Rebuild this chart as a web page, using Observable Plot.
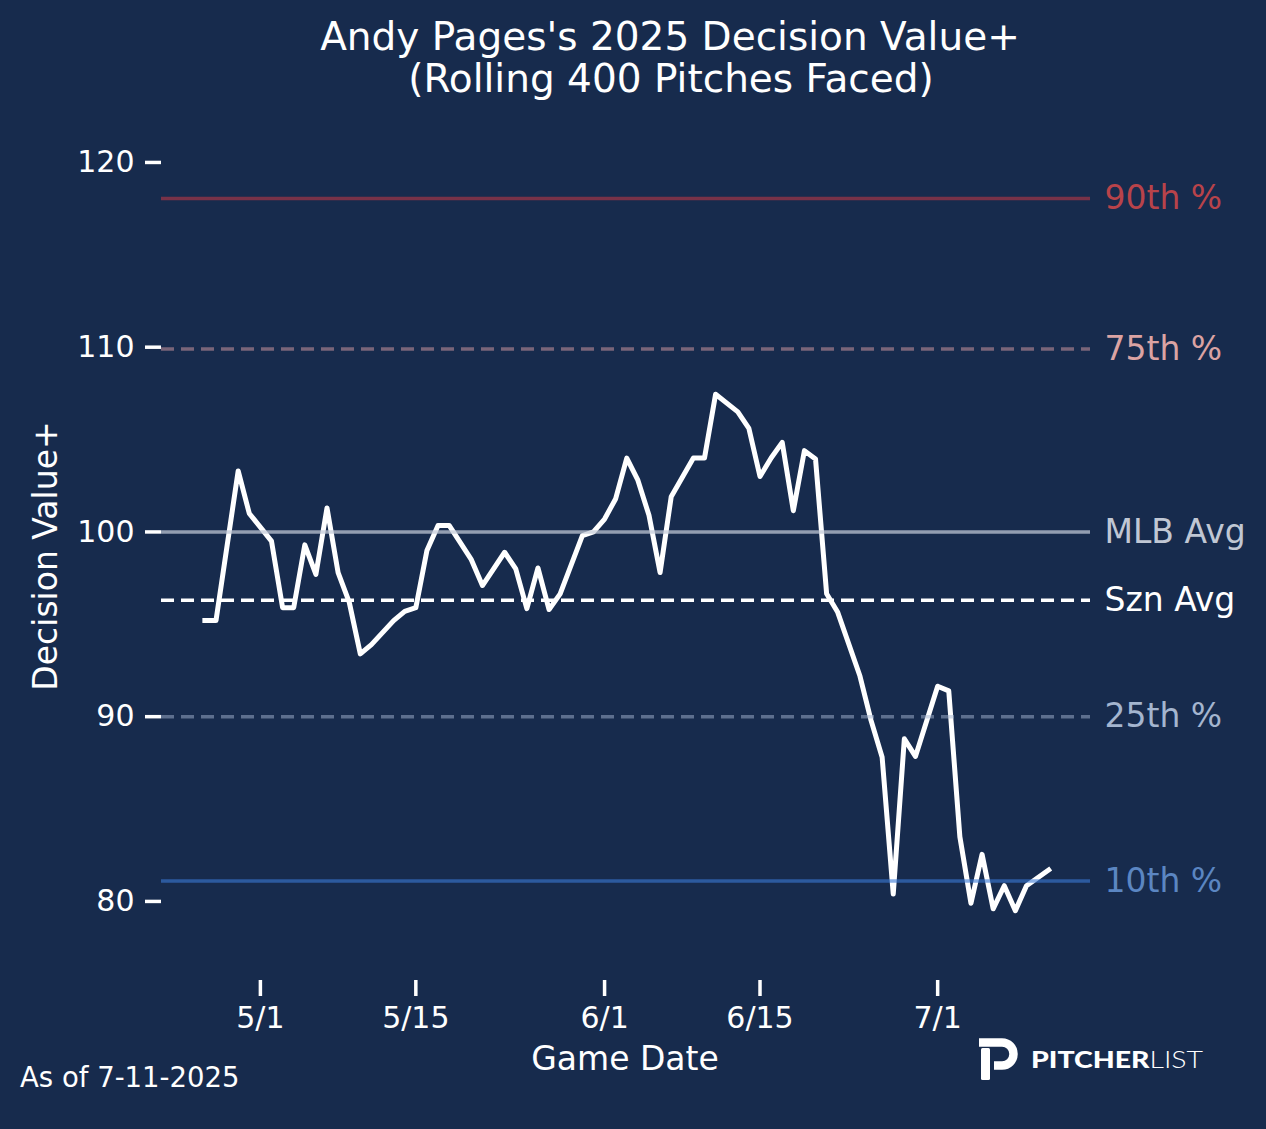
<!DOCTYPE html>
<html>
<head>
<meta charset="utf-8">
<script src="https://cdn.jsdelivr.net/npm/d3@7"></script>
<script src="https://cdn.jsdelivr.net/npm/@observablehq/plot@0.6"></script>
<style>
  html, body { margin: 0; padding: 0; background: #172b4d; }
  #wrap { position: relative; width: 1266px; height: 1129px; background: #172b4d; overflow: hidden; font-family: "DejaVu Sans", sans-serif; }
  #chart { position: absolute; left: 0; top: 110px; }
  #overlay { position: absolute; left: 0; top: 0; pointer-events: none; }
</style>
</head>
<body>
<div id="wrap">
  <div id="chart"></div>
  <svg id="overlay" width="1266" height="1129" font-family="DejaVu Sans, sans-serif">
    <text x="670" y="50" text-anchor="middle" fill="#ffffff" font-size="39">Andy Pages's 2025 Decision Value+</text>
    <text x="671" y="92" text-anchor="middle" fill="#ffffff" font-size="39">(Rolling 400 Pitches Faced)</text>
    <text x="625" y="1070" text-anchor="middle" fill="#ffffff" font-size="33">Game Date</text>
    <text transform="translate(57,556) rotate(-90)" text-anchor="middle" fill="#ffffff" font-size="33">Decision Value+</text>
    <text x="20" y="1087" fill="#ffffff" font-size="27.5">As of 7-11-2025</text>
    <g>
      <rect x="981" y="1048" width="9" height="32" rx="1.5" fill="#ffffff"/>
      <path d="M979 1042.5 H1002 A11.5 11.5 0 0 1 1002 1065.5 H994" fill="none" stroke="#ffffff" stroke-width="8.5"/>
      <text x="1031" y="1068" font-family="Lato, sans-serif" font-size="23.5" fill="#ffffff" textLength="172" lengthAdjust="spacingAndGlyphs"><tspan font-weight="900">PITCHER</tspan><tspan font-weight="300">LIST</tspan></text>
    </g>
  </svg>
</div>
<script>
// ---- data ----
const gameDates = [
  "2025-04-26","2025-04-27","2025-04-29","2025-04-30","2025-05-02","2025-05-03","2025-05-04",
  "2025-05-05","2025-05-06","2025-05-07","2025-05-08","2025-05-09","2025-05-10","2025-05-11",
  "2025-05-13","2025-05-14","2025-05-15","2025-05-16","2025-05-17","2025-05-18","2025-05-20",
  "2025-05-21","2025-05-23","2025-05-24","2025-05-25","2025-05-26","2025-05-27","2025-05-28",
  "2025-05-30","2025-05-31","2025-06-01","2025-06-02","2025-06-03","2025-06-04","2025-06-05",
  "2025-06-06","2025-06-07","2025-06-09","2025-06-10","2025-06-11","2025-06-13","2025-06-14",
  "2025-06-15","2025-06-16","2025-06-17","2025-06-18","2025-06-19","2025-06-20","2025-06-21",
  "2025-06-22","2025-06-24","2025-06-25","2025-06-26","2025-06-27","2025-06-28","2025-06-29",
  "2025-07-01","2025-07-02","2025-07-03","2025-07-04","2025-07-05","2025-07-06","2025-07-07",
  "2025-07-08","2025-07-09","2025-07-11"
];
const dvPlus = [
  95.2, 95.2, 103.3, 101.0, 99.5, 95.9, 95.9,
  99.3, 97.7, 101.3, 97.8, 96.2, 93.4, 93.9,
  95.2, 95.7, 95.9, 99.0, 100.35, 100.35, 98.5,
  97.1, 98.9, 98.0, 95.85, 98.05, 95.8, 96.65,
  99.8, 100.0, 100.7, 101.8, 104.0, 102.8, 100.9,
  97.8, 101.9, 104.0, 104.0, 107.45, 106.5, 105.6,
  103.0, 104.0, 104.85, 101.15, 104.4, 103.95, 96.65,
  95.65, 92.2, 89.8, 87.8, 80.4, 88.8, 87.85,
  91.65, 91.4, 83.5, 79.9, 82.55, 79.6, 80.85,
  79.5, 80.85, 81.7
];
const refLabels = ["90th %", "75th %", "MLB Avg", "Szn Avg", "25th %", "10th %"];
const refValues = [118.05, 109.9, 100.0, 96.3, 90.0, 81.1];
const xTickDates = ["2025-05-01", "2025-05-15", "2025-06-01", "2025-06-15", "2025-07-01"];
const yTicks = [80, 90, 100, 110, 120];

// ---- styles (kept separate from data) ----
const refStyles = [
  {stroke: "#d93a44", opacity: 0.5, dash: null, text: "#b8434a"},
  {stroke: "#dca0a6", opacity: 0.5, dash: "13,7", text: "#dba3a3"},
  {stroke: "#c3cad8", opacity: 0.72, dash: null, text: "#c0c7d4"},
  {stroke: "#ffffff", opacity: 1, dash: "13,7", text: "#ffffff"},
  {stroke: "#a3b4d0", opacity: 0.5, dash: "13,7", text: "#a4b5cf"},
  {stroke: "#3b7ad6", opacity: 0.6, dash: null, text: "#5b86c2"}
];

const parse = d3.utcParse("%Y-%m-%d");
const series = gameDates.map((d, i) => ({date: parse(d), value: dvPlus[i]}));
const refs = refLabels.map((l, i) => ({label: l, value: refValues[i], ...refStyles[i]}));

const marks = [
  Plot.axisX({
    ticks: xTickDates.map(parse),
    tickFormat: d => `${d.getUTCMonth() + 1}/${d.getUTCDate()}`,
    tickSize: 16, tickPadding: 10, strokeWidth: 3.5, label: null, fontSize: 30
  }),
  Plot.axisY({
    ticks: yTicks, tickSize: 16, tickPadding: 11, strokeWidth: 3.5, label: null, fontSize: 30
  }),
  Plot.line(series, {
    x: "date", y: "value", stroke: "#ffffff", strokeWidth: 5,
    strokeLinejoin: "round", strokeLinecap: "square"
  })
];
for (const r of refs) {
  marks.push(Plot.ruleY([r.value], {
    stroke: r.stroke, strokeOpacity: r.opacity, strokeWidth: 3.5,
    strokeDasharray: r.dash || undefined
  }));
  marks.push(Plot.text([r], {
    y: "value", text: "label", frameAnchor: "right", dx: 14,
    textAnchor: "start", fill: r.text, fontSize: 33
  }));
}

const chart = Plot.plot({
  width: 1266,
  height: 1019,
  marginLeft: 161,
  marginRight: 176,
  marginTop: 15,
  marginBottom: 149,
  style: {background: "transparent", color: "#ffffff", fontFamily: "DejaVu Sans, sans-serif", fontSize: "30px", overflow: "visible"},
  x: {type: "utc", domain: [new Date(Date.UTC(2025, 3, 22, 2, 14)), new Date(Date.UTC(2025, 6, 14, 18, 24))]},
  y: {domain: [75.72, 122.0]},
  marks
});
document.getElementById("chart").appendChild(chart);
</script>
</body>
</html>
